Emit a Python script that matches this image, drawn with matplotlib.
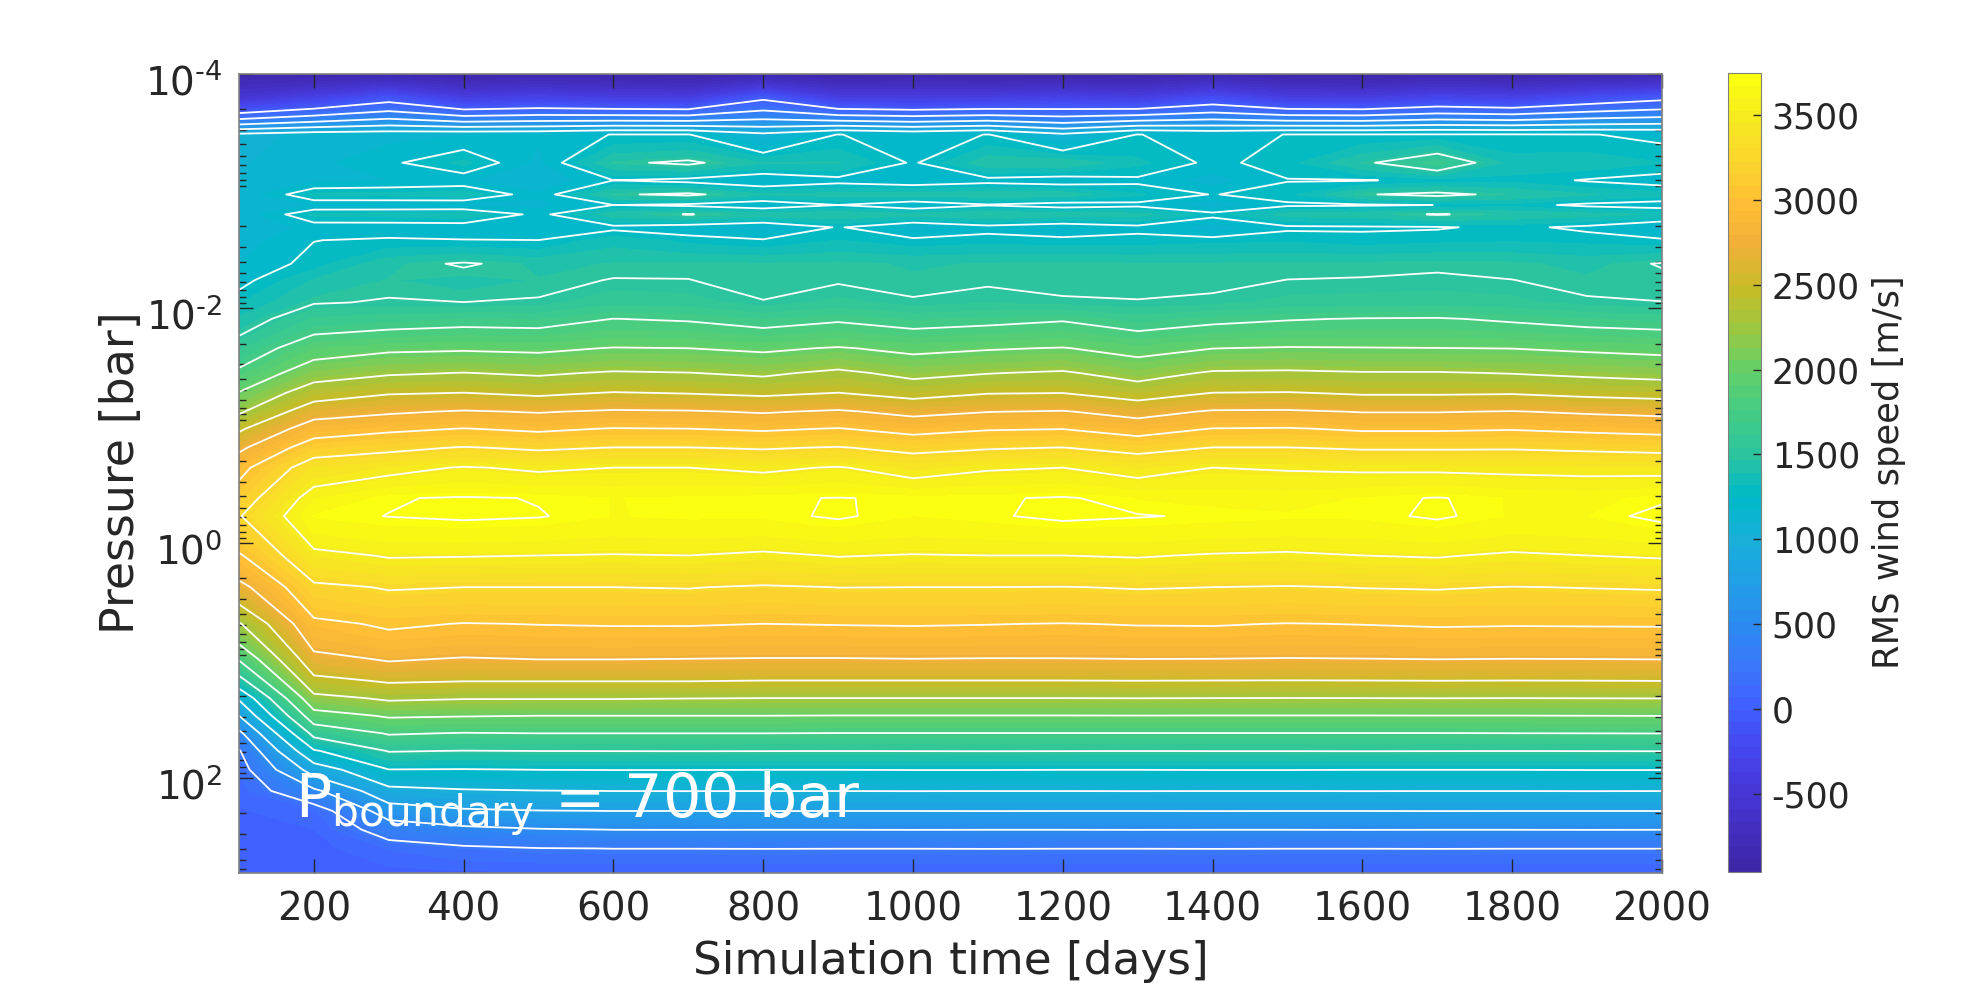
import numpy as np
from matplotlib import pyplot as plt
from matplotlib import ticker
from matplotlib.cm import ScalarMappable
from matplotlib.colors import LinearSegmentedColormap, Normalize
from matplotlib.transforms import ScaledTranslation

time_days = [100, 200, 300, 400, 500, 600, 700, 800, 900, 1000,
             1100, 1200, 1300, 1400, 1500, 1600, 1700, 1800, 1900, 2000]

# log10 of pressure in bar, one entry per row of rms_wind
log_pressure = [-4.0, -3.8, -3.48, -3.24, -3.09, -2.97, -2.88, -2.8, -2.69, -2.58,
                -2.38, -2.24, -2.05, -1.91, -1.66, -1.45, -1.28, -1.12, -0.975, -0.813,
                -0.643, -0.384, -0.23, 0.105, 0.375, 0.687, 0.985, 1.17, 1.32, 1.47,
                1.62, 1.77, 1.93, 2.11, 2.28, 2.44, 2.6, 2.8]

rms_wind = [
    [-900, -920, -880, -930, -910, -920, -950, -870, -945, -905, -930, -945, -950, -880, -940, -955, -920, -945, -910, -880],
    [-545, -350, -124, -400, -340, -400, -420, -59, -400, -420, -400, -340, -400, -200, -400, -420, -294, -350, -200, -80],
    [1050, 1130, 1150, 1170, 1180, 1255, 1255, 1050, 1255, 1180, 1255, 1040, 1255, 1180, 1255, 1258, 1262, 1262, 1255, 1225],
    [1090, 1150, 1230, 1340, 1150, 1473, 1530, 1394, 1400, 1235, 1450, 1460, 1340, 1225, 1291, 1470, 1650, 1356, 1370, 1320],
    [1100, 1150, 1170, 1180, 1100, 1250, 1210, 1150, 1210, 1170, 1210, 1180, 1225, 1130, 1245, 1242, 1280, 1300, 1240, 1200],
    [1100, 1338, 1340, 1370, 1185, 1484, 1530, 1400, 1420, 1430, 1440, 1440, 1330, 1245, 1300, 1490, 1540, 1462, 1400, 1350],
    [1100, 1170, 1170, 1150, 1150, 1250, 1220, 1150, 1250, 1150, 1240, 1190, 1220, 1100, 1230, 1235, 1251, 1290, 1223, 1190],
    [1105, 1340, 1345, 1380, 1215, 1440, 1505, 1440, 1450, 1420, 1470, 1430, 1420, 1290, 1420, 1440, 1510, 1450, 1420, 1380],
    [1120, 1190, 1190, 1180, 1170, 1220, 1180, 1130, 1260, 1140, 1210, 1170, 1220, 1110, 1230, 1235, 1240, 1275, 1225, 1130],
    [1130, 1248, 1265, 1255, 1251, 1363, 1297, 1260, 1320, 1274, 1295, 1278, 1284, 1299, 1307, 1282, 1300, 1310, 1300, 1268],
    [1170, 1285, 1450, 1516, 1450, 1470, 1480, 1470, 1480, 1460, 1470, 1480, 1470, 1470, 1480, 1480, 1490, 1480, 1443, 1510],
    [1210, 1400, 1470, 1440, 1470, 1505, 1502, 1470, 1490, 1475, 1490, 1480, 1475, 1483, 1501, 1505, 1510, 1501, 1480, 1470],
    [1314, 1490, 1510, 1501, 1511, 1590, 1570, 1505, 1560, 1510, 1530, 1510, 1505, 1515, 1560, 1570, 1580, 1560, 1510, 1502],
    [1404, 1623, 1658, 1685, 1677, 1752, 1733, 1677, 1726, 1672, 1699, 1733, 1653, 1707, 1739, 1758, 1763, 1726, 1685, 1664],
    [1593, 1898, 1964, 1976, 1961, 2009, 2000, 1967, 2015, 1952, 1985, 2009, 1931, 1997, 2015, 2009, 2003, 1997, 1970, 1946],
    [1800, 2145, 2225, 2254, 2220, 2271, 2254, 2211, 2297, 2185, 2241, 2276, 2153, 2276, 2285, 2263, 2263, 2241, 2206, 2175],
    [2012, 2391, 2484, 2502, 2460, 2510, 2490, 2460, 2502, 2426, 2490, 2498, 2405, 2502, 2510, 2477, 2477, 2485, 2448, 2422],
    [2217, 2650, 2720, 2769, 2736, 2778, 2769, 2731, 2778, 2689, 2745, 2764, 2665, 2774, 2778, 2741, 2741, 2759, 2722, 2694],
    [2463, 2883, 2958, 3005, 2963, 3009, 3000, 2972, 3009, 2926, 2982, 2995, 2903, 3005, 3014, 2972, 2972, 2986, 2954, 2926],
    [2702, 3136, 3201, 3263, 3221, 3254, 3254, 3233, 3263, 3191, 3233, 3254, 3179, 3254, 3254, 3229, 3229, 3233, 3212, 3191],
    [2930, 3385, 3450, 3512, 3476, 3500, 3500, 3472, 3512, 3424, 3484, 3500, 3436, 3500, 3488, 3476, 3472, 3464, 3456, 3448],
    [3130, 3590, 3693, 3710, 3696, 3670, 3680, 3690, 3703, 3690, 3690, 3710, 3667, 3650, 3640, 3674, 3706, 3666, 3650, 3690],
    [3235, 3677, 3702, 3715, 3705, 3669, 3680, 3680, 3711, 3669, 3690, 3719, 3705, 3691, 3680, 3680, 3712, 3666, 3670, 3723],
    [2974, 3449, 3514, 3508, 3500, 3492, 3500, 3471, 3508, 3492, 3500, 3500, 3513, 3487, 3474, 3500, 3513, 3477, 3500, 3518],
    [2669, 3204, 3264, 3250, 3250, 3250, 3257, 3231, 3252, 3250, 3250, 3245, 3260, 3250, 3238, 3255, 3262, 3245, 3255, 3264],
    [2226, 2945, 3032, 2993, 3005, 3012, 3012, 3000, 3007, 3012, 3005, 2995, 3009, 3012, 2995, 3005, 3018, 3012, 3014, 3016],
    [1773, 2677, 2775, 2736, 2756, 2756, 2750, 2742, 2742, 2750, 2744, 2745, 2752, 2750, 2742, 2748, 2755, 2750, 2752, 2756],
    [1409, 2433, 2528, 2510, 2510, 2510, 2510, 2500, 2500, 2500, 2500, 2500, 2503, 2500, 2498, 2500, 2503, 2500, 2502, 2505],
    [1028, 2179, 2283, 2262, 2262, 2262, 2255, 2250, 2250, 2250, 2250, 2250, 2252, 2250, 2248, 2250, 2252, 2250, 2252, 2254],
    [750, 1896, 2024, 2010, 2000, 2000, 2000, 2000, 1995, 1995, 1995, 1995, 1997, 1995, 1995, 1995, 1997, 1997, 2000, 2002],
    [438, 1568, 1767, 1740, 1750, 1750, 1750, 1750, 1745, 1745, 1745, 1745, 1745, 1745, 1745, 1745, 1745, 1748, 1750, 1752],
    [230, 1225, 1510, 1495, 1501, 1502, 1503, 1502, 1501, 1502, 1503, 1502, 1501, 1502, 1502, 1503, 1502, 1501, 1502, 1503],
    [150, 854, 1245, 1240, 1251, 1253, 1253, 1251, 1251, 1253, 1253, 1251, 1251, 1253, 1253, 1251, 1251, 1251, 1253, 1253],
    [100, 450, 923, 977, 995, 1002, 1003, 1002, 1002, 1003, 1002, 1002, 1003, 1002, 1002, 1003, 1002, 1002, 1003, 1002],
    [60, 130, 620, 718, 745, 752, 752, 753, 752, 752, 753, 752, 752, 753, 752, 752, 753, 752, 752, 752],
    [40, 70, 353, 440, 486, 502, 503, 502, 502, 503, 502, 502, 503, 502, 502, 503, 502, 502, 503, 502],
    [20, 35, 150, 214, 245, 252, 252, 253, 252, 252, 253, 252, 252, 253, 252, 252, 253, 252, 252, 252],
    [0, 5, 40, 60, 65, 70, 72, 70, 72, 70, 72, 70, 72, 70, 72, 70, 72, 70, 72, 70],
]

contour_levels = [0, 250, 500, 750, 1000, 1250, 1500, 1750, 2000, 2250, 2500, 2750, 3000, 3250, 3500, 3700]
colorbar_ticks = [-500, 0, 500, 1000, 1500, 2000, 2500, 3000, 3500]
x_ticks = [200, 400, 600, 800, 1000, 1200, 1400, 1600, 1800, 2000]
y_ticks = [1e-4, 1e-2, 1e0, 1e2]
y_tick_labels = [r"$10^{\text{-}4}$", r"$10^{\text{-}2}$", "$10^{0}$", "$10^{2}$"]

color_min = -958
color_max = 3745
color_anchors = [
    (-958, "#3d26a8"), (-500, "#4737d8"), (-250, "#4547f0"), (0, "#4060ff"),
    (250, "#3a78fb"), (500, "#2a8cf0"), (750, "#20a0e5"), (1000, "#18b0d8"),
    (1250, "#00bac8"), (1500, "#2bc3a0"), (1750, "#44cc84"), (2000, "#62d06a"),
    (2250, "#9cc840"), (2500, "#c8bc28"), (2750, "#f0b038"), (3000, "#ffbe35"),
    (3250, "#fcd52e"), (3500, "#f5e920"), (3745, "#fbff10"),
]

plt.rcParams["font.family"] = "DejaVu Sans"
plt.rcParams["mathtext.default"] = "regular"
plt.rcParams["axes.unicode_minus"] = False
text_color = "#262626"

cmap = LinearSegmentedColormap.from_list(
    "wind",
    [((v - color_min) / (color_max - color_min), c) for v, c in color_anchors],
    N=64,
)
norm = Normalize(color_min, color_max)

W, H = 1968, 985
fig = plt.figure(figsize=(W / 100, H / 100), dpi=100)
ax = fig.add_axes([239 / W, 1 - 872.7 / H, (1662 - 239) / W, (872.7 - 73.5) / H])

pressure = 10.0 ** np.array(log_pressure)
wind = np.array(rms_wind, dtype=float)

fill_levels = np.linspace(color_min, color_max, 65)
filled = ax.contourf(time_days, pressure, wind, levels=fill_levels, cmap=cmap, norm=norm)
filled.set_edgecolor("face")
filled.set_linewidth(0.3)
ax.contour(time_days, pressure, wind, levels=contour_levels, colors="white", linewidths=1.3)

ax.set_yscale("log")
ax.set_xlim(100, 2000)
ax.set_ylim(10 ** 2.807, 1e-4)
ax.set_xticks(x_ticks)
ax.set_yticks(y_ticks)
ax.set_yticklabels(y_tick_labels)
ax.yaxis.set_minor_locator(ticker.LogLocator(base=10, subs=np.arange(2, 10), numticks=20))
ax.yaxis.set_minor_formatter(ticker.NullFormatter())
ax.tick_params(which="major", direction="in", length=10, width=1, top=True, right=True,
               labelsize=28, colors=text_color)
ax.tick_params(axis="x", which="major", pad=13)
ax.tick_params(axis="y", which="major", pad=12)
ax.tick_params(which="minor", direction="in", length=5, width=1, right=True, color=text_color)
# the power labels sit a little lower than the tick in the original
label_shift = ScaledTranslation(0, -4 / 72, fig.dpi_scale_trans)
for label in ax.get_yticklabels():
    label.set_transform(label.get_transform() + label_shift)
for spine in ax.spines.values():
    spine.set_color("#808080")
    spine.set_linewidth(1.2)
ax.set_xlabel("Simulation time [days]", fontsize=32.7, color=text_color, labelpad=8)
ax.set_ylabel("Pressure [bar]", fontsize=33, color=text_color, labelpad=1)
ax.text(175, 214, "P$_{boundary}$ = 700 bar", color="white", fontsize=43.5, va="baseline")

cax = fig.add_axes([1728 / W, 1 - 871.7 / H, (1760.6 - 1728) / W, (871.7 - 73.3) / H])
cbar = fig.colorbar(ScalarMappable(norm=norm, cmap=cmap), cax=cax, ticks=colorbar_ticks)
cbar.ax.tick_params(direction="in", length=6, width=1, labelsize=25, colors=text_color, pad=8)
cbar.outline.set_edgecolor("#808080")
cbar.set_label("RMS wind speed [m/s]", fontsize=25.4, color=text_color, labelpad=9)

fig.savefig("out.png", dpi=100)
